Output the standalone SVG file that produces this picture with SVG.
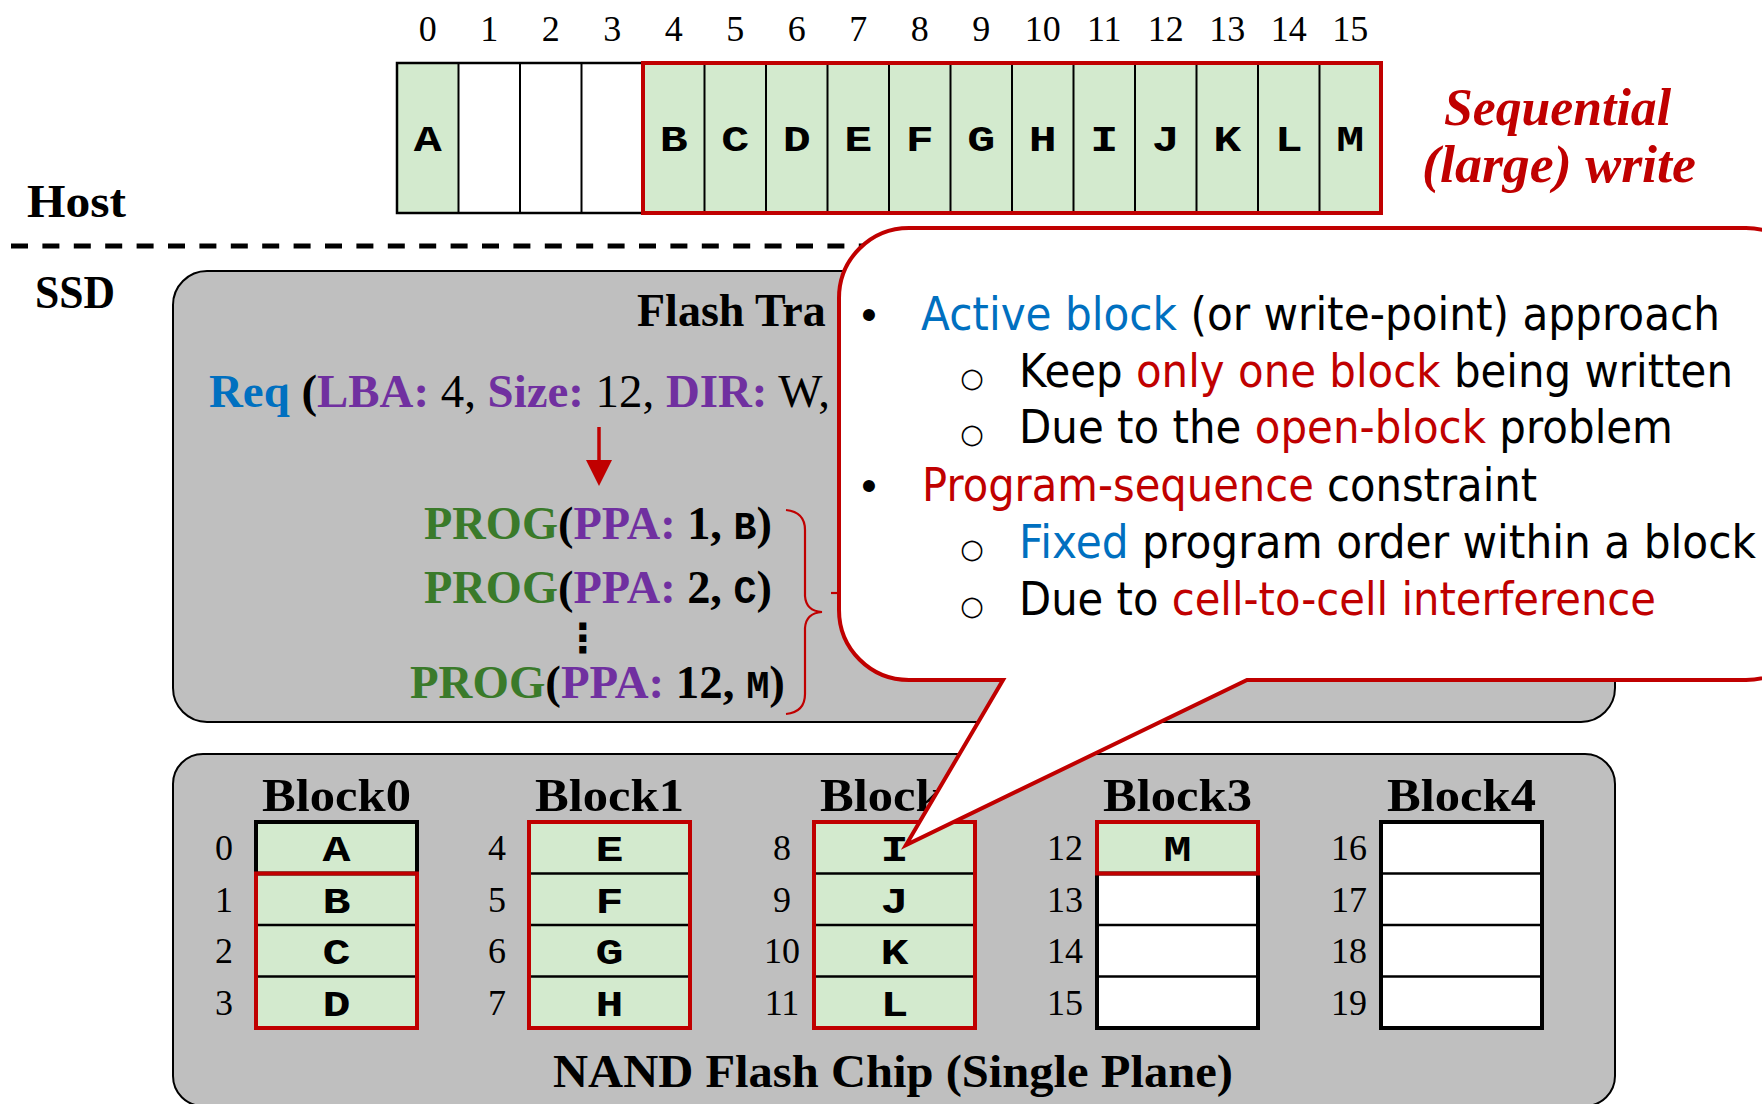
<svg xmlns="http://www.w3.org/2000/svg" width="1762" height="1104" viewBox="0 0 1762 1104">
  <defs>
    <style>
      .serif { font-family: "Liberation Serif", "Times New Roman", serif; }
      .b { font-weight: bold; }
      .mono { font-family: "Liberation Mono", "Courier New", monospace; font-weight: bold; }
      .sans { font-family: "DejaVu Sans", Tahoma, Verdana, sans-serif; }
      .num { font-family: "Liberation Serif", "Times New Roman", serif; font-size: 36px; fill: #000; text-anchor: middle; }
      .cell { font-family: "Liberation Mono", "Courier New", monospace; font-weight: bold; font-size: 37px; text-anchor: middle; }
      .title { font-family: "Liberation Serif", "Times New Roman", serif; font-weight: bold; font-size: 46px; text-anchor: middle; }
      .grn { fill: #D3EACE; }
      .wht { fill: #FFFFFF; }
      .sep { stroke: #000; stroke-width: 2.5; }
      .blk { fill: none; stroke: #000; stroke-width: 4; }
      .red { fill: none; stroke: #C00000; stroke-width: 4; }
      .cR { fill: #C00000; }
      .cB { fill: #0070C0; }
      .cP { fill: #7030A0; }
      .cG { fill: #3A7A2A; }
      .cK { fill: #000000; }
      .panel { fill: #BFBFBF; stroke: #000; stroke-width: 2; }
      .co { font-family: "DejaVu Sans", Tahoma, Verdana, sans-serif; font-size: 46px; }
      .ring { font-family: "DejaVu Sans", Tahoma, sans-serif; font-size: 27px; text-anchor: middle; }
      .dot { font-family: "Liberation Sans", Arial, sans-serif; font-size: 44px; text-anchor: middle; }
    </style>
    <marker id="arrowHead" viewBox="0 0 26 26" refX="10" refY="13" markerWidth="26" markerHeight="26" markerUnits="userSpaceOnUse" orient="auto">
      <path d="M0,0 L26,13 L0,26 Z" fill="#C00000"/>
    </marker>
  </defs>

  <rect x="0" y="0" width="1762" height="1104" fill="#FFFFFF"/>

  <!-- Host side labels -->
  <g id="host-label">
    <text class="serif b" x="27" y="217" font-size="46" textLength="99" lengthAdjust="spacingAndGlyphs">Host</text>
  </g>
  <g id="ssd-label">
    <text class="serif b" x="35" y="308" font-size="46" textLength="80" lengthAdjust="spacingAndGlyphs">SSD</text>
  </g>

  <!-- Logical block addresses 0..15 -->
  <g id="lba-row">
    <rect class="grn" x="397" y="63" width="61.5" height="150"/>
    <rect class="wht" x="458.5" y="63" width="184.5" height="150"/>
    <rect class="grn" x="643" y="63" width="738" height="150"/>
    <g stroke="#000" stroke-width="2">
      <line x1="458.5" y1="63" x2="458.5" y2="213"/>
      <line x1="520" y1="63" x2="520" y2="213"/>
      <line x1="581.5" y1="63" x2="581.5" y2="213"/>
      <line x1="704.5" y1="63" x2="704.5" y2="213"/>
      <line x1="766" y1="63" x2="766" y2="213"/>
      <line x1="827.5" y1="63" x2="827.5" y2="213"/>
      <line x1="889" y1="63" x2="889" y2="213"/>
      <line x1="950.5" y1="63" x2="950.5" y2="213"/>
      <line x1="1012" y1="63" x2="1012" y2="213"/>
      <line x1="1073.5" y1="63" x2="1073.5" y2="213"/>
      <line x1="1135" y1="63" x2="1135" y2="213"/>
      <line x1="1196.5" y1="63" x2="1196.5" y2="213"/>
      <line x1="1258" y1="63" x2="1258" y2="213"/>
      <line x1="1319.5" y1="63" x2="1319.5" y2="213"/>
    </g>
    <rect x="397" y="63" width="246" height="150" fill="none" stroke="#000" stroke-width="2.5"/>
    <rect class="red" x="643" y="63" width="738" height="150"/>
    <g>
      <text class="num" x="427.75" y="41">0</text>
      <text class="num" x="489.25" y="41">1</text>
      <text class="num" x="550.75" y="41">2</text>
      <text class="num" x="612.25" y="41">3</text>
      <text class="num" x="673.75" y="41">4</text>
      <text class="num" x="735.25" y="41">5</text>
      <text class="num" x="796.75" y="41">6</text>
      <text class="num" x="858.25" y="41">7</text>
      <text class="num" x="919.75" y="41">8</text>
      <text class="num" x="981.25" y="41">9</text>
      <text class="num" x="1042.75" y="41">10</text>
      <text class="num" x="1104.25" y="41">11</text>
      <text class="num" x="1165.75" y="41">12</text>
      <text class="num" x="1227.25" y="41">13</text>
      <text class="num" x="1288.75" y="41">14</text>
      <text class="num" x="1350.25" y="41">15</text>
    </g>
    <g>
      <text class="cell" x="427.75" y="151" textLength="28" lengthAdjust="spacingAndGlyphs">A</text>
      <text class="cell" x="673.75" y="151" textLength="28" lengthAdjust="spacingAndGlyphs">B</text>
      <text class="cell" x="735.25" y="151" textLength="28" lengthAdjust="spacingAndGlyphs">C</text>
      <text class="cell" x="796.75" y="151" textLength="28" lengthAdjust="spacingAndGlyphs">D</text>
      <text class="cell" x="858.25" y="151" textLength="28" lengthAdjust="spacingAndGlyphs">E</text>
      <text class="cell" x="919.75" y="151" textLength="28" lengthAdjust="spacingAndGlyphs">F</text>
      <text class="cell" x="981.25" y="151" textLength="28" lengthAdjust="spacingAndGlyphs">G</text>
      <text class="cell" x="1042.75" y="151" textLength="28" lengthAdjust="spacingAndGlyphs">H</text>
      <text class="cell" x="1104.25" y="151" textLength="28" lengthAdjust="spacingAndGlyphs">I</text>
      <text class="cell" x="1165.75" y="151" textLength="28" lengthAdjust="spacingAndGlyphs">J</text>
      <text class="cell" x="1227.25" y="151" textLength="28" lengthAdjust="spacingAndGlyphs">K</text>
      <text class="cell" x="1288.75" y="151" textLength="28" lengthAdjust="spacingAndGlyphs">L</text>
      <text class="cell" x="1350.25" y="151" textLength="28" lengthAdjust="spacingAndGlyphs">M</text>
    </g>
  </g>

  <g id="seq-label">
    <text class="serif b cR" x="1444" y="125" font-size="52" font-style="italic" textLength="227" lengthAdjust="spacingAndGlyphs">Sequential</text>
    <text class="serif b cR" x="1422" y="182" font-size="52" font-style="italic" textLength="274" lengthAdjust="spacingAndGlyphs">(large) write</text>
  </g>

  <!-- FTL panel -->
  <g id="ftl">
    <rect class="panel" x="173" y="271" width="1442" height="451" rx="34" ry="34"/>
    <text class="serif b" x="637" y="326" font-size="46">Flash Tra</text>
    <text class="serif" x="209" y="407" font-size="46" textLength="621" lengthAdjust="spacingAndGlyphs"><tspan class="b cB">Req </tspan><tspan class="b cK">(</tspan><tspan class="b cP">LBA:</tspan><tspan class="cK"> 4, </tspan><tspan class="b cP">Size:</tspan><tspan class="cK"> 12, </tspan><tspan class="b cP">DIR:</tspan><tspan class="cK"> W,</tspan></text>
    <text class="serif b" x="424" y="539" font-size="46" textLength="348" lengthAdjust="spacingAndGlyphs"><tspan class="cG">PROG</tspan><tspan class="cK">(</tspan><tspan class="cP">PPA:</tspan><tspan class="cK"> 1, </tspan><tspan class="mono cK" font-size="38">B</tspan><tspan class="cK">)</tspan></text>
    <text class="serif b" x="424" y="603" font-size="46" textLength="348" lengthAdjust="spacingAndGlyphs"><tspan class="cG">PROG</tspan><tspan class="cK">(</tspan><tspan class="cP">PPA:</tspan><tspan class="cK"> 2, </tspan><tspan class="mono cK" font-size="38">C</tspan><tspan class="cK">)</tspan></text>
    <text class="sans b" x="583" y="652" font-size="40" text-anchor="middle">⋮</text>
    <text class="serif b" x="410" y="698" font-size="46" textLength="375" lengthAdjust="spacingAndGlyphs"><tspan class="cG">PROG</tspan><tspan class="cK">(</tspan><tspan class="cP">PPA:</tspan><tspan class="cK"> 12, </tspan><tspan class="mono cK" font-size="38">M</tspan><tspan class="cK">)</tspan></text>
  </g>

  <!-- NAND chip panel -->
  <g id="nand">
    <rect class="panel" x="173" y="754" width="1442" height="352" rx="30" ry="30"/>
    <text class="title" x="893" y="1087" textLength="680" lengthAdjust="spacingAndGlyphs">NAND Flash Chip (Single Plane)</text>
  </g>

  <g id="block0">
    <rect class="grn" x="256" y="822" width="161" height="206"/>
    <line class="sep" x1="256" y1="925" x2="417" y2="925"/>
    <line class="sep" x1="256" y1="976.5" x2="417" y2="976.5"/>
    <rect class="blk" x="256" y="822" width="161" height="51.5"/>
    <rect class="red" x="256" y="873.5" width="161" height="154.5"/>
    <text class="title" x="336.5" y="811" textLength="149" lengthAdjust="spacingAndGlyphs">Block0</text>
    <text class="cell" x="336.5" y="861" textLength="28" lengthAdjust="spacingAndGlyphs">A</text>
    <text class="cell" x="336.5" y="912.5" textLength="28" lengthAdjust="spacingAndGlyphs">B</text>
    <text class="cell" x="336.5" y="964" textLength="28" lengthAdjust="spacingAndGlyphs">C</text>
    <text class="cell" x="336.5" y="1015.5" textLength="28" lengthAdjust="spacingAndGlyphs">D</text>
    <text class="num" x="224" y="860">0</text>
    <text class="num" x="224" y="911.5">1</text>
    <text class="num" x="224" y="963">2</text>
    <text class="num" x="224" y="1014.5">3</text>
  </g>

  <g id="block1">
    <rect class="grn" x="529" y="822" width="161" height="206"/>
    <line class="sep" x1="529" y1="873.5" x2="690" y2="873.5"/>
    <line class="sep" x1="529" y1="925" x2="690" y2="925"/>
    <line class="sep" x1="529" y1="976.5" x2="690" y2="976.5"/>
    <rect class="red" x="529" y="822" width="161" height="206"/>
    <text class="title" x="609.5" y="811" textLength="149" lengthAdjust="spacingAndGlyphs">Block1</text>
    <text class="cell" x="609.5" y="861" textLength="28" lengthAdjust="spacingAndGlyphs">E</text>
    <text class="cell" x="609.5" y="912.5" textLength="28" lengthAdjust="spacingAndGlyphs">F</text>
    <text class="cell" x="609.5" y="964" textLength="28" lengthAdjust="spacingAndGlyphs">G</text>
    <text class="cell" x="609.5" y="1015.5" textLength="28" lengthAdjust="spacingAndGlyphs">H</text>
    <text class="num" x="497" y="860">4</text>
    <text class="num" x="497" y="911.5">5</text>
    <text class="num" x="497" y="963">6</text>
    <text class="num" x="497" y="1014.5">7</text>
  </g>

  <g id="block2">
    <rect class="grn" x="814" y="822" width="161" height="206"/>
    <line class="sep" x1="814" y1="873.5" x2="975" y2="873.5"/>
    <line class="sep" x1="814" y1="925" x2="975" y2="925"/>
    <line class="sep" x1="814" y1="976.5" x2="975" y2="976.5"/>
    <rect class="red" x="814" y="822" width="161" height="206"/>
    <text class="title" x="894.5" y="811" textLength="149" lengthAdjust="spacingAndGlyphs">Block2</text>
    <text class="cell" x="894.5" y="861" textLength="28" lengthAdjust="spacingAndGlyphs">I</text>
    <text class="cell" x="894.5" y="912.5" textLength="28" lengthAdjust="spacingAndGlyphs">J</text>
    <text class="cell" x="894.5" y="964" textLength="28" lengthAdjust="spacingAndGlyphs">K</text>
    <text class="cell" x="894.5" y="1015.5" textLength="28" lengthAdjust="spacingAndGlyphs">L</text>
    <text class="num" x="782" y="860">8</text>
    <text class="num" x="782" y="911.5">9</text>
    <text class="num" x="782" y="963">10</text>
    <text class="num" x="782" y="1014.5">11</text>
  </g>

  <g id="block3">
    <rect class="grn" x="1097" y="822" width="161" height="51.5"/>
    <rect class="wht" x="1097" y="873.5" width="161" height="154.5"/>
    <line class="sep" x1="1097" y1="925" x2="1258" y2="925"/>
    <line class="sep" x1="1097" y1="976.5" x2="1258" y2="976.5"/>
    <rect class="blk" x="1097" y="873.5" width="161" height="154.5"/>
    <rect class="red" x="1097" y="822" width="161" height="51.5"/>
    <text class="title" x="1177.5" y="811" textLength="149" lengthAdjust="spacingAndGlyphs">Block3</text>
    <text class="cell" x="1177.5" y="861" textLength="28" lengthAdjust="spacingAndGlyphs">M</text>
    <text class="num" x="1065" y="860">12</text>
    <text class="num" x="1065" y="911.5">13</text>
    <text class="num" x="1065" y="963">14</text>
    <text class="num" x="1065" y="1014.5">15</text>
  </g>

  <g id="block4">
    <rect class="wht" x="1381" y="822" width="161" height="206"/>
    <line class="sep" x1="1381" y1="873.5" x2="1542" y2="873.5"/>
    <line class="sep" x1="1381" y1="925" x2="1542" y2="925"/>
    <line class="sep" x1="1381" y1="976.5" x2="1542" y2="976.5"/>
    <rect class="blk" x="1381" y="822" width="161" height="206"/>
    <text class="title" x="1461.5" y="811" textLength="149" lengthAdjust="spacingAndGlyphs">Block4</text>
    <text class="num" x="1349" y="860">16</text>
    <text class="num" x="1349" y="911.5">17</text>
    <text class="num" x="1349" y="963">18</text>
    <text class="num" x="1349" y="1014.5">19</text>
  </g>

  <!-- connectors: host/SSD divider, request-to-command arrow, command brace -->
  <g id="connectors">
    <line x1="11" y1="246" x2="900" y2="246" stroke="#000" stroke-width="5" stroke-dasharray="17 14.4"/>
    <line x1="599" y1="427" x2="599" y2="470" stroke="#C00000" stroke-width="3.5" marker-end="url(#arrowHead)"/>
    <path d="M786 510 Q805 512 805 530 L805 596 Q806 611 822 612 Q806 613 805 628 L805 694 Q805 712 786 714" fill="none" stroke="#C00000" stroke-width="2.2"/>
    <line x1="831" y1="593" x2="842" y2="593" stroke="#C00000" stroke-width="2.2"/>
  </g>

  <!-- speech-bubble note -->
  <g id="callout">
    <path d="M909 228 L1746 228 A70 70 0 0 1 1816 298 L1816 610 A70 70 0 0 1 1746 680 L1247 680 L906 845 L1003 680 L909 680 A70 70 0 0 1 839 610 L839 298 A70 70 0 0 1 909 228 Z" fill="#FFFFFF" stroke="#C00000" stroke-width="4" stroke-linejoin="miter"/>
    <text class="dot" x="869" y="330">•</text>
    <text class="co" x="921" y="330" textLength="799" lengthAdjust="spacingAndGlyphs"><tspan class="cB">Active block</tspan><tspan class="cK"> (or write-point) approach</tspan></text>
    <text class="ring" x="972" y="387">○</text>
    <text class="co" x="1019" y="387" textLength="714" lengthAdjust="spacingAndGlyphs"><tspan class="cK">Keep </tspan><tspan class="cR">only one block</tspan><tspan class="cK"> being written</tspan></text>
    <text class="ring" x="972" y="443">○</text>
    <text class="co" x="1019" y="443" textLength="654" lengthAdjust="spacingAndGlyphs"><tspan class="cK">Due to the </tspan><tspan class="cR">open-block</tspan><tspan class="cK"> problem</tspan></text>
    <text class="dot" x="869" y="501">•</text>
    <text class="co" x="922" y="501" textLength="615" lengthAdjust="spacingAndGlyphs"><tspan class="cR">Program-sequence</tspan><tspan class="cK"> constraint</tspan></text>
    <text class="ring" x="972" y="558">○</text>
    <text class="co" x="1019" y="558" textLength="737" lengthAdjust="spacingAndGlyphs"><tspan class="cB">Fixed</tspan><tspan class="cK"> program order within a block</tspan></text>
    <text class="ring" x="972" y="615">○</text>
    <text class="co" x="1019" y="615" textLength="637" lengthAdjust="spacingAndGlyphs"><tspan class="cK">Due to </tspan><tspan class="cR">cell-to-cell interference</tspan></text>
  </g>
</svg>
